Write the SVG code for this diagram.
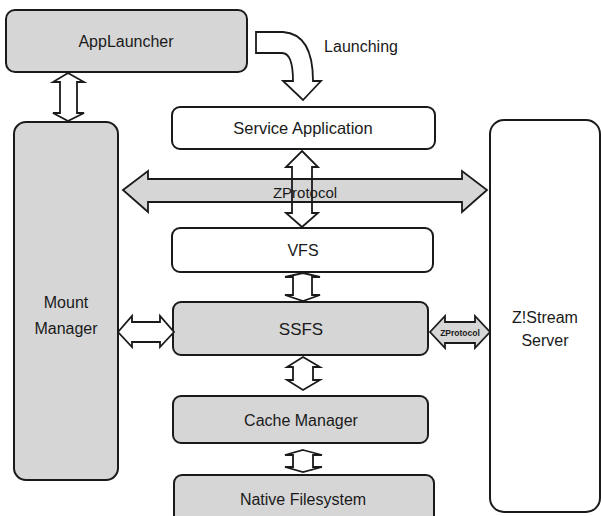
<svg xmlns="http://www.w3.org/2000/svg" width="601" height="516" viewBox="0 0 601 516">
<style>
.box{stroke:#1a1a1a;stroke-width:2}
.g{fill:#d6d6d6}
.w{fill:#ffffff}
.t{font-family:"Liberation Sans","Noto Sans CJK JP",sans-serif;font-size:16px;fill:#1a1a1a;text-anchor:middle}
.a{stroke:#1a1a1a;stroke-width:1.8;stroke-linejoin:miter}
</style>
<rect width="601" height="516" fill="#ffffff"/>
<g id="applauncher"><rect class="box g" x="6" y="10" width="241" height="62" rx="9"/><text class="t" x="126" y="47">AppLauncher</text></g>
<g id="mount-manager"><rect class="box g" x="14" y="122" width="104" height="358" rx="12"/><text class="t" x="66" y="308">Mount</text><text class="t" x="66" y="334">Manager</text></g>
<g id="service-application"><rect class="box w" x="172" y="107" width="263" height="42" rx="8"/><text class="t" x="303" y="134" style="font-size:16.5px">Service Application</text></g>
<g id="vfs"><rect class="box w" x="172" y="228" width="261" height="44" rx="8"/><text class="t" x="303" y="256">VFS</text></g>
<g id="ssfs"><rect class="box g" x="173" y="302" width="255" height="53" rx="8"/><text class="t" x="301" y="335" style="font-size:17px">SSFS</text></g>
<g id="cache-manager"><rect class="box g" x="173" y="396" width="255" height="47" rx="8"/><text class="t" x="301" y="426">Cache Manager</text></g>
<g id="native-filesystem"><rect class="box g" x="174" y="475" width="260" height="50" rx="8"/><text class="t" x="303" y="505">Native Filesystem</text></g>
<g id="zstream-server"><rect class="box w" x="490" y="120" width="110" height="392" rx="14"/><text class="t" x="545" y="323">Z!Stream</text><text class="t" x="545" y="346">Server</text></g>
<g id="connectors">
<path class="a" fill="#ffffff" d="M256,32 L283,32 Q313,34 313,81 L321,81 L303,100 L283,81 L293,81 Q293,53 282,53 L256,53 Z"/>
<text class="t" x="361" y="52">Launching</text>
<path class="a" fill="#ffffff" d="M68,73 L84,82 L77,82 L77,113 L84,113 L68,121 L53,113 L60,113 L60,82 L53,82 Z"/>
<path class="a" fill="#d6d6d6" d="M123,190 L148,171 L148,179 L462,179 L462,171 L487,190 L462,212 L462,202 L148,202 L148,212 Z"/>
<path class="a" fill="none" d="M302,151 L318,167 L312,167 L312,213 L318,213 L302,227 L286,213 L292,213 L292,167 L286,167 Z"/>
<text class="t" x="305" y="198" style="font-size:15px">ZProtocol</text>
<path class="a" fill="#ffffff" d="M303,273 L320,277 L312,277 L312,295 L320,295 L303,301 L285,295 L293,295 L293,277 L285,277 Z"/>
<path class="a" fill="#ffffff" d="M118,332 L132,316 L132,322 L160,322 L160,316 L174,332 L160,347 L160,342 L132,342 L132,347 Z"/>
<path class="a" fill="#d6d6d6" d="M430,332 L445,316 L445,322 L475,322 L475,316 L490,332 L475,348 L475,343 L445,343 L445,348 Z"/>
<text x="460" y="336" style="font-family:'Liberation Sans',sans-serif;font-size:8.5px;font-weight:bold;fill:#1a1a1a;text-anchor:middle">ZProtocol</text>
<path class="a" fill="#ffffff" d="M303,357 L320,367 L313,367 L313,380 L320,380 L303,390 L287,380 L293,380 L293,367 L287,367 Z"/>
<path class="a" fill="#ffffff" d="M303,450 L322,455 L313,455 L313,467 L322,467 L303,472 L285,467 L293,467 L293,455 L285,455 Z"/>
</g>
</svg>
